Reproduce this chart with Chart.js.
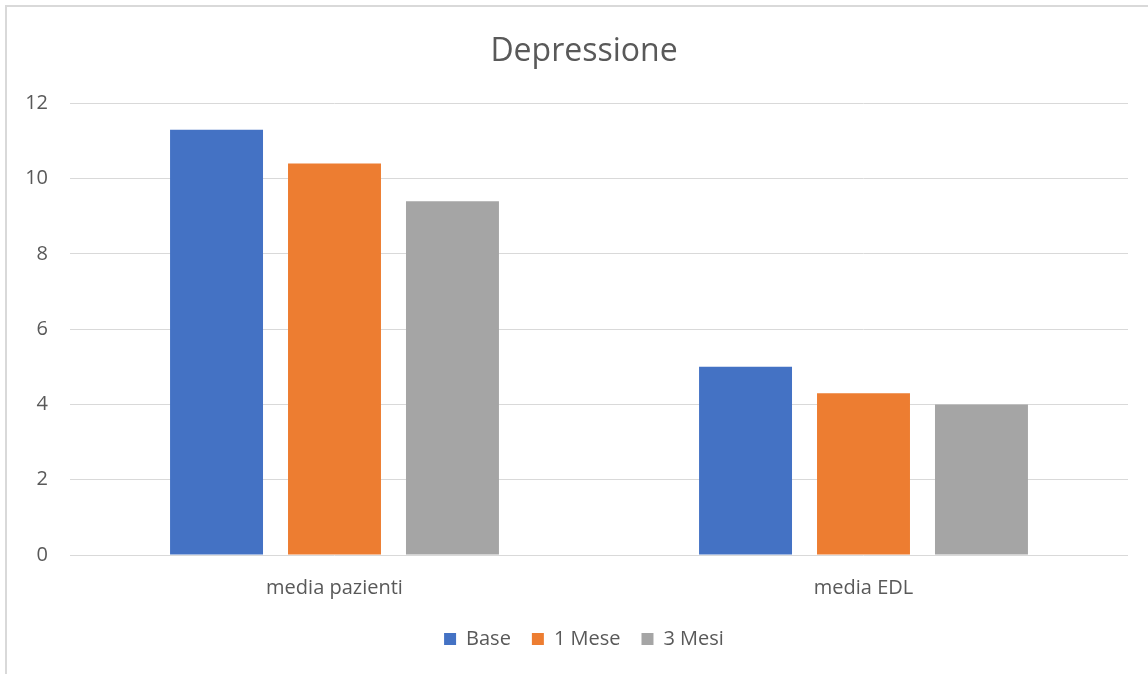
<!DOCTYPE html>
<html>
<head>
<meta charset="utf-8">
<script src="https://cdn.jsdelivr.net/npm/chart.js@4.4.1/dist/chart.umd.min.js"></script>
<style>
  html, body { margin: 0; padding: 0; background: #fff; }
  #wrap { position: relative; width: 1148px; height: 674px; overflow: hidden; }
  #frame { position: absolute; left: 5px; top: 5px; width: 1160px; height: 700px;
           border-left: 2px solid #d9d9d9; border-top: 2px solid #d9d9d9; box-sizing: border-box; }
  canvas { position: absolute; left: 0; top: 0; }
</style>
</head>
<body>
<div id="wrap">
  <div id="frame"></div>
  <canvas id="c" width="1168" height="674"></canvas>
</div>
<script>
// Categories, series and axis ticks
const categories = ['media pazienti', 'media EDL'];
const seriesNames = ['Base', '1 Mese', '3 Mesi'];
const baseValues = [11.3, 5.0];
const oneMonthValues = [10.4, 4.3];
const threeMonthValues = [9.4, 4.0];
const yTicks = [0, 2, 4, 6, 8, 10, 12];

const colors = ['#4472C4', '#ED7D31', '#A5A5A5'];
const textColor = '#595959';
const fontFamily = '"Open Sans", "Noto Sans", sans-serif';

const seriesValues = [baseValues, oneMonthValues, threeMonthValues];

new Chart(document.getElementById('c'), {
  type: 'bar',
  data: {
    labels: categories,
    datasets: seriesNames.map((name, i) => ({
      label: name,
      data: seriesValues[i],
      backgroundColor: colors[i],
      borderWidth: 0,
      categoryPercentage: 0.669,
      barPercentage: 0.788
    }))
  },
  options: {
    responsive: false,
    animation: false,
    layout: { padding: { left: 0, right: 0, top: 0, bottom: 15 } },
    plugins: {
      title: {
        display: true,
        text: 'Depressione',
        color: textColor,
        font: { family: fontFamily, size: 32, weight: 'normal' },
        padding: { top: 33, bottom: 32 }
      },
      legend: {
        position: 'bottom',
        labels: {
          color: textColor,
          font: { family: fontFamily, size: 20 },
          boxWidth: 12,
          boxHeight: 12,
          padding: 21
        }
      },
      tooltip: { enabled: false }
    },
    scales: {
      x: {
        grid: { display: false },
        border: { display: false },
        ticks: { color: textColor, font: { family: fontFamily, size: 20 }, padding: 13 },
        afterFit: (s) => { s.height = 53; }
      },
      y: {
        min: 0,
        max: 12,
        afterBuildTicks: (s) => { s.ticks = yTicks.map(v => ({ value: v })); },
        grid: { color: '#d9d9d9', lineWidth: 1, drawTicks: false },
        border: { display: false },
        ticks: { color: textColor, font: { family: fontFamily, size: 20 }, padding: 22 },
        afterFit: (s) => { s.width = 70; }
      },
      // empty right-hand margin axis
      yRight: {
        position: 'right',
        min: 0,
        max: 12,
        grid: { display: false },
        border: { display: false },
        ticks: { display: false },
        afterFit: (s) => { s.width = 40; }
      }
    }
  }
});
</script>
</body>
</html>
